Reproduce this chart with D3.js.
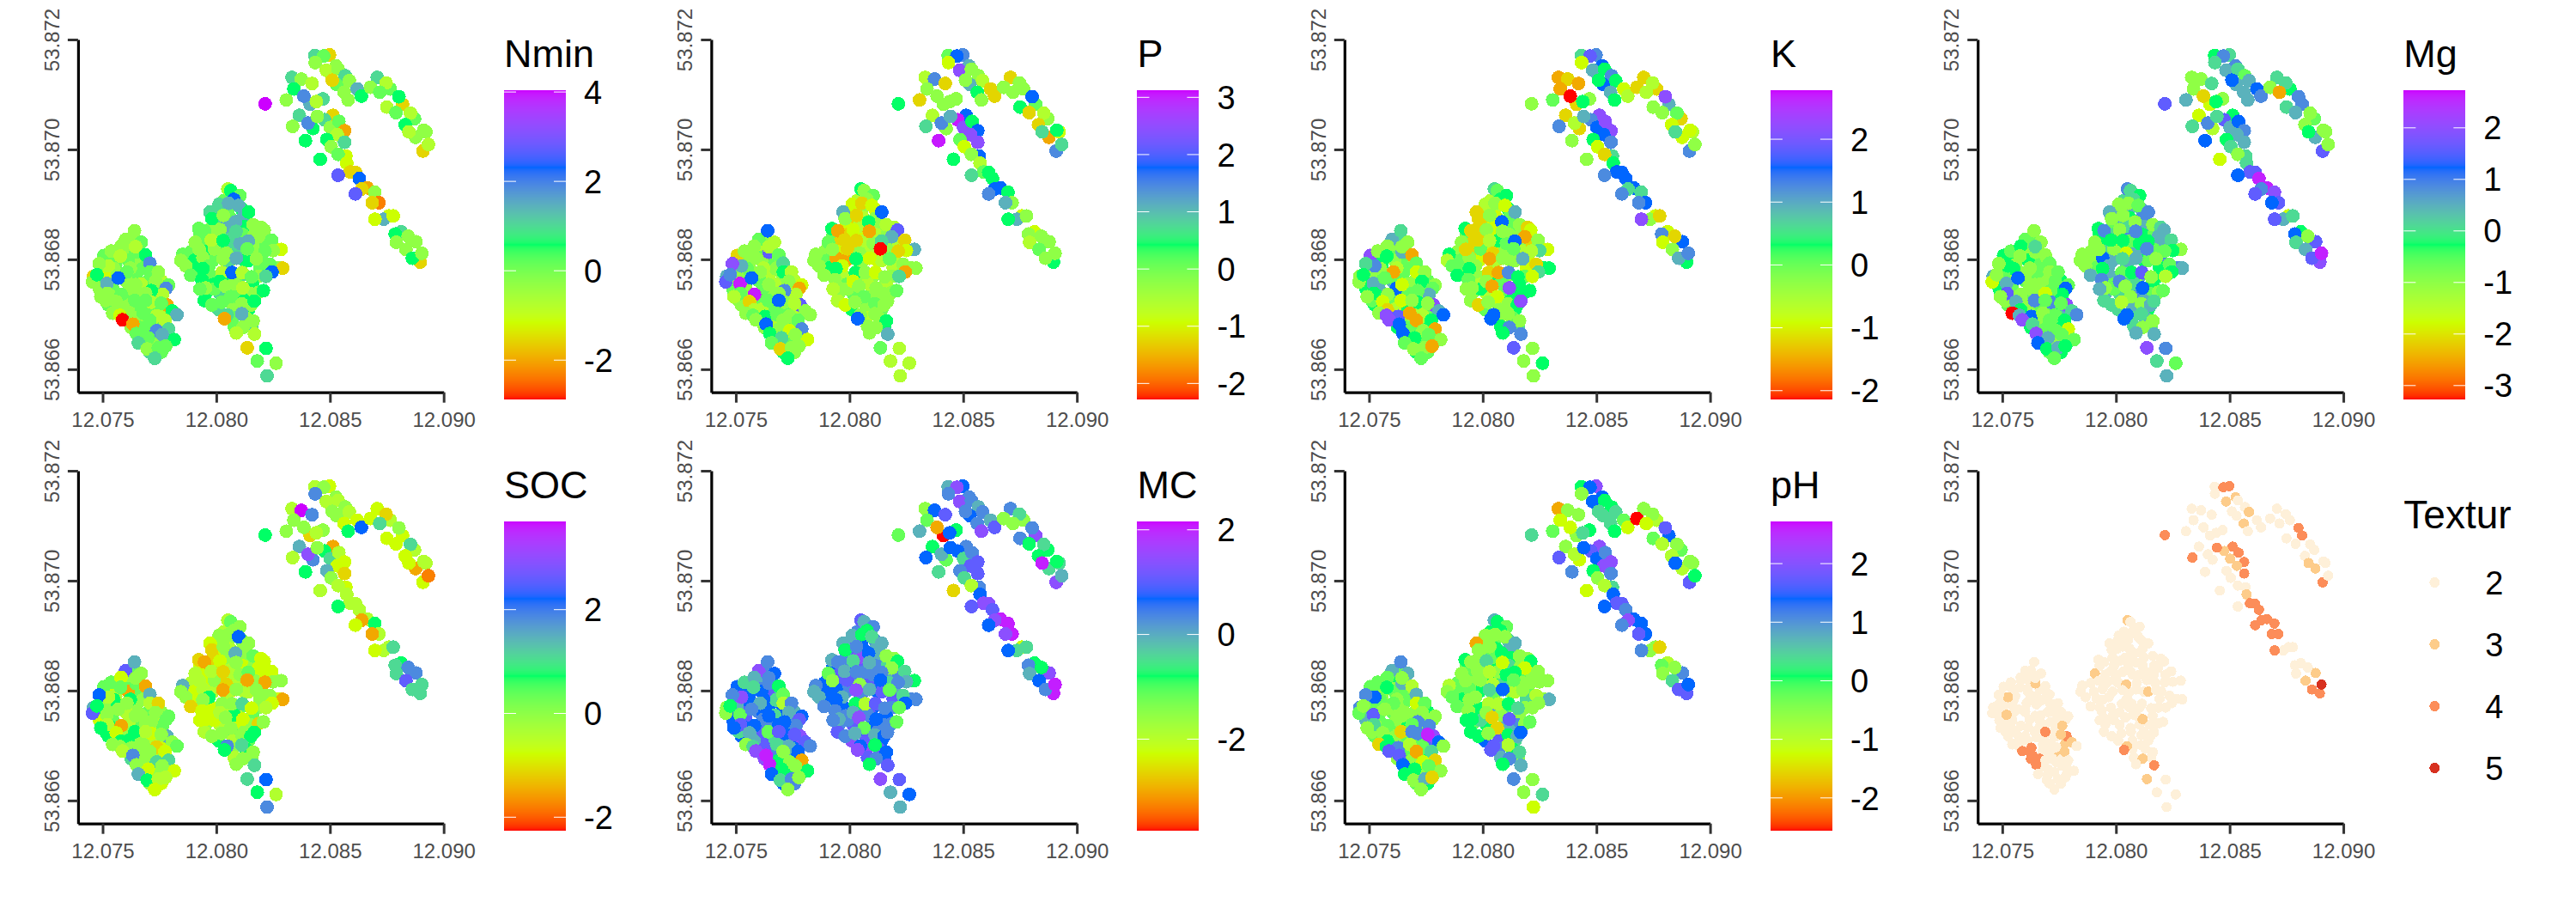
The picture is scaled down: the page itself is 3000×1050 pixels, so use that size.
<!DOCTYPE html>
<html>
<head>
<meta charset="utf-8">
<script src="https://cdn.jsdelivr.net/npm/d3@7"></script>
<style>
  body { margin: 0; background: #fff; }
  text { font-family: "Liberation Sans", Arial, sans-serif; }
</style>
</head>
<body>
<svg id="chart" width="3000" height="1050"></svg>
<script>
// sample positions, one entry per soil sample, same order in all the value arrays
var lon = [
  12.07626,12.07582,12.07616,12.07544,12.07611,12.07664,12.075,12.07557,12.07651,12.07695,
  12.07487,12.07538,12.07651,12.0772,12.07481,12.0755,12.07601,12.07701,12.07758,12.07487,
  12.07544,12.07664,12.07739,12.07538,12.07613,12.07664,12.07733,12.07525,12.07601,12.07683,
  12.07739,12.07557,12.07714,12.07777,12.0762,12.07676,12.07745,12.07626,12.07664,12.0772,
  12.07764,12.07664,12.07783,12.07701,12.07783,12.07708,12.07758,
  12.08035,12.0801,12.08054,12.08111,12.08004,12.0806,12.08117,12.07985,12.08066,12.08123,
  12.07928,12.07991,12.08054,12.08117,12.08167,12.07953,12.08004,12.08073,12.08167,12.08218,
  12.0789,12.07959,12.0801,12.08092,12.08173,12.07903,12.07985,12.0806,12.08123,12.08199,
  12.07915,12.08048,12.08192,12.08268,12.07928,12.07978,12.0806,12.08104,12.08186,12.07985,
  12.08092,12.08161,12.07953,12.08016,12.08104,12.08148,12.07947,12.08066,12.08123,12.0801,
  12.08073,12.08142,12.08073,12.08129,12.08155,12.08079,
  12.0755,12.07506,12.07601,12.07513,12.07651,12.07613,12.07689,12.07727,12.07613,12.07676,
  12.0746,12.07456,12.07494,12.07506,12.07538,12.07601,12.0764,12.0767,12.07581,12.07646,
  12.07645,12.07689,12.07578,12.07525,12.07485,12.07622,12.07607,12.07708,12.07709,12.07745,
  12.07733,12.07475,
  12.07519,12.07569,12.0767,12.0779,12.07779,12.0762,12.07645,12.07764,12.07714,12.07521,
  12.07492,12.07582,12.0756,12.07642,12.07689,12.07714,12.07689,12.07783,12.07758,12.07806,
  12.07827,12.07581,12.07544,12.07576,12.07628,12.07588,12.07679,12.07737,12.07708,12.07774,
  12.07633,12.0779,12.07649,12.07737,12.07701,12.07657,12.07815,12.07762,12.07696,12.07745,
  12.07777,12.07729,
  12.07991,12.08066,12.08104,12.08142,12.07991,12.08079,12.07941,12.08041,
  12.08051,12.08064,12.08104,12.08077,12.08012,12.08054,12.08098,12.08142,12.07972,12.07981,
  12.08031,12.08084,12.08162,12.08197,12.08211,12.07923,12.07948,12.08016,12.08087,12.08185,
  12.08141,12.07978,12.0803,12.07907,12.07925,12.08243,12.08285,12.0825,12.08214,12.08136,
  12.08045,12.07852,12.07844,12.07866,12.07888,12.07968,12.07941,12.08029,12.08088,12.08176,
  12.08235,12.08292,12.08245,12.08218,12.08026,12.08069,12.08114,12.08155,12.08016,12.07937,
  12.07953,12.07928,12.08041,12.08117,12.08186,12.08207,12.08064,12.07981,12.08024,12.08112,
  12.08152,12.08167,12.08048,12.08036,12.08112,12.08162,12.08117,12.08088,12.08168,
  12.08136,12.08219,12.0818,12.08263,12.08223,
  12.08434,12.08498,12.08472,12.08435,12.08526,12.08484,12.08536,12.08567,12.0853,12.0851,
  12.08585,12.08562,12.0862,12.08638,12.0858,12.08333,12.08374,12.08421,12.08341,12.08413,
  12.08385,12.08469,12.0844,12.08308,12.08215,12.08708,12.08765,12.08747,12.08678,12.08719,
  12.08819,12.08803,12.0875,12.0879,12.08872,12.08854,12.08831,12.08877,12.08922,12.08912,
  12.08847,12.08909,12.08933,12.08365,12.08336,12.08425,12.08404,12.08513,12.08476,12.08444,
  12.08502,12.08539,12.08564,12.08532,12.08564,12.08392,12.08486,12.08505,12.0857,12.08536,
  12.08574,12.08457,12.08589,12.08612,12.08536,12.08629,12.08664,12.08639,12.08612,12.08697,
  12.08715,12.08686,12.08759,12.08736,12.08698,12.08778,12.08813,12.08787,12.08878,12.08844,
  12.08792,12.08834,12.08897,12.08862,12.08904
];
var lat = [
  53.86837,53.86819,53.86819,53.86803,53.86803,53.86803,53.8679,53.8679,53.8679,53.8679,
  53.86775,53.86775,53.86775,53.86775,53.86761,53.86761,53.86761,53.86761,53.86761,53.86746,
  53.86746,53.86746,53.86746,53.86733,53.86733,53.86733,53.86733,53.86717,53.86717,53.86717,
  53.86717,53.86704,53.86704,53.86704,53.86689,53.86689,53.86689,53.86676,53.86676,53.86676,
  53.86676,53.8666,53.8666,53.86647,53.86647,53.86631,53.86631,
  53.86907,53.86892,53.86892,53.86892,53.86876,53.86876,53.86876,53.8686,53.8686,53.8686,
  53.86845,53.86845,53.86845,53.86845,53.86845,53.86829,53.86829,53.86829,53.86829,53.86829,
  53.86814,53.86814,53.86814,53.86814,53.86814,53.86798,53.86798,53.86798,53.86798,53.86798,
  53.86785,53.86785,53.86785,53.86785,53.86769,53.86769,53.86769,53.86769,53.86769,53.86754,
  53.86754,53.86754,53.86738,53.86738,53.86738,53.86738,53.86725,53.86725,53.86725,53.86709,
  53.86709,53.86709,53.86694,53.86694,53.86678,53.86678,
  53.86783,53.86772,53.86767,53.86725,53.86715,53.86709,53.86673,53.86652,53.86798,53.86783,
  53.86769,53.86759,53.86792,53.86807,53.86815,53.86836,53.86852,53.86831,53.86824,53.86813,
  53.86823,53.86808,53.86806,53.86788,53.86792,53.86784,53.86777,53.86793,53.86777,53.86777,
  53.8676,53.86772,
  53.86756,53.86766,53.86755,53.86753,53.86747,53.86747,53.86754,53.86736,53.86743,53.86738,
  53.86732,53.86736,53.86723,53.86725,53.86738,53.86722,53.86725,53.86717,53.8672,53.86706,
  53.86699,53.86708,53.86702,53.86698,53.86696,53.8669,53.86702,53.86697,53.86689,53.86689,
  53.86682,53.86673,53.86665,53.8667,53.86657,53.86648,53.86654,53.86663,53.86637,53.86639,
  53.86642,53.8662,
  53.86819,53.86834,53.86829,53.86798,53.86746,53.86756,53.86803,53.8686,
  53.86928,53.86925,53.86916,53.86909,53.869,53.86902,53.86898,53.86886,53.86886,53.86874,
  53.8688,53.86868,53.86863,53.86858,53.86853,53.86856,53.86852,53.86854,53.86851,53.86841,
  53.86833,53.86835,53.86834,53.86831,53.86818,53.86835,53.86818,53.86816,53.86815,53.86819,
  53.86811,53.86809,53.86798,53.86788,53.86771,53.86788,53.86783,53.86801,53.86802,53.86801,
  53.86791,53.86784,53.86777,53.86769,53.86776,53.86776,53.86776,53.86768,53.8676,53.86763,
  53.86748,53.86746,53.86751,53.86748,53.8674,53.86743,53.86732,53.86717,53.86722,53.86719,
  53.86717,53.86724,53.86699,53.86692,53.86701,53.86688,53.86676,53.86666,53.86664,
  53.86639,53.86638,53.86615,53.86611,53.86588,
  53.87171,53.87172,53.8717,53.87158,53.87152,53.87144,53.87146,53.87134,53.87118,53.87126,
  53.87125,53.87104,53.8711,53.87097,53.8709,53.87131,53.87128,53.8712,53.8711,53.87082,
  53.87097,53.87092,53.87087,53.8709,53.87083,53.87131,53.8711,53.87121,53.87113,53.87104,
  53.87082,53.87096,53.87077,53.87067,53.87056,53.87066,53.87045,53.87022,53.87032,53.87035,
  53.87032,53.86997,53.87009,53.87062,53.87042,53.87038,53.87048,53.87062,53.87054,53.8706,
  53.8704,53.87051,53.87034,53.87027,53.87013,53.87016,53.87018,53.87005,53.86988,53.86991,
  53.86975,53.86982,53.86959,53.86958,53.86953,53.86947,53.8693,53.86928,53.86919,53.86922,
  53.86903,53.86903,53.86879,53.86873,53.86873,53.86879,53.8685,53.86846,53.86832,53.86842,
  53.86831,53.86818,53.86795,53.86802,53.86811
];

// standardised soil values
var Nmin = [
  -.29,.16,-.29,.16,-.29,.16,-.29,.16,-.29,.16,
  -.29,-.73,.16,-.29,.16,-.29,-.29,.16,-.73,-.29,
  .16,-.73,.16,-.29,.16,-.29,.16,.16,-.29,.16,
  -.29,-.29,.16,-.73,.16,-.29,.16,-.29,.16,-.73,
  .16,-.29,1.45,.16,-.29,1,.16,
  .16,.58,.16,.58,1,.16,1.45,-.29,1,.58,
  .16,-.29,1,.16,-.29,.16,.58,1,-.29,.16,
  .16,.58,.16,1,-.29,.58,.16,-.29,.58,.16,
  .58,1,.16,-.29,.58,.16,.58,1,-.29,.58,
  .16,.58,.58,1,.16,-.29,.58,.16,.58,1,
  -.29,.58,.16,-.29,1,.16,
  -.29,-1.15,-.29,-.29,.16,-.29,.16,-.29,.16,.16,
  -1.57,-.29,.16,.16,-.29,-.29,-.29,.16,-.29,.16,
  -.73,.58,-.73,-.73,-.29,-.29,.16,1.9,.16,-.29,
  -.29,.58,
  1.45,2.31,-.73,.16,1.9,-.29,-.29,-.73,.58,-.29,
  -.29,.16,-.29,.16,-.29,-.73,.16,-1.98,.16,.58,
  1.45,-.29,-.29,-1.15,-.29,-2.88,.16,-.73,.16,-.73,
  -1.98,1,.16,1.9,.16,1,.58,1.45,-.29,.16,
  .16,1,
  -.29,1,1.45,.58,.16,-.29,-.29,1.45,
  -.73,.58,.16,2.31,1,1.45,1.45,.58,1,.58,
  -.29,1.45,-.29,-.29,-.29,.16,.16,-.29,1,-.29,
  1.45,-.73,.58,-.29,-.29,.16,-1.15,-.29,.16,.16,
  -.29,.16,-.29,-.29,.16,.16,.58,-.29,1.45,-.29,
  .16,-1.57,2.31,1,-.73,2.31,-.73,.16,.58,.58,
  -.29,.16,-.29,-.73,-.29,.58,.16,.16,.16,-.29,
  -.29,.58,1,-1.98,1.45,-.29,-.29,-.73,-.73,
  -1.57,.58,.16,-.29,1,
  1,-1.57,.16,-.29,-.29,-.73,-.29,1,.16,-1.57,
  -.29,-.29,1.45,.58,-.29,1,-.29,-.73,.58,1.45,
  1.9,1,-.73,-.29,4.04,1,.16,-.73,-.29,.16,
  -1.57,.58,-.73,.16,.16,-.73,.58,-.29,-.29,-.29,
  -.73,-1.57,-.73,1,-.29,.58,1.9,-1.57,1,-.29,
  -.29,.16,-1.98,-.73,1,.58,.58,-.29,-1.15,.16,
  -1.15,.58,-1.57,-1.57,2.72,2.31,-1.98,-1.57,2.72,-.29,
  -2.33,-1.57,-1.15,1.45,-1.15,-1.15,1,.58,-.29,-.29,
  -.29,-.29,-1.57,.58,-.29
];
var P = [
  -.25,.1,-.6,-.25,.1,-.6,1.1,-.25,.1,-.25,
  1.45,-.25,-.6,.1,-.6,-.25,.1,-.25,-.6,.1,
  -.25,.42,-.6,-.25,.1,-.25,-.6,-.25,.1,-.25,
  .42,-.25,.1,-.6,-.25,.1,.42,-.25,-.6,.1,
  -.25,.42,-.6,.1,-.25,.42,-.25,
  -.6,-.93,-.25,-.93,-1.25,-.6,-.25,-.93,-.25,-.25,
  .1,-1.25,-.93,-.6,-.25,-1.25,-.93,-.25,-.25,-.6,
  -.25,-.93,-.25,-.6,-.25,.1,-1.58,-.25,-.93,-.6,
  .42,-.25,-.6,-.25,-.25,-.6,-.25,-.25,-.25,.1,
  -.25,-.6,-.25,.1,-.25,-.25,-.6,.1,-.25,.42,
  -.25,.1,-.6,-.25,.42,-.25,
  .1,-.25,.1,-.25,.1,-.6,-.25,.1,-.25,-.25,
  1.1,2.1,2.45,-1.25,-.25,.1,1.77,-.6,-.25,2.1,
  -.6,.1,-.25,1.1,2.45,-.6,-.25,.75,.42,-.6,
  -.25,1.45,
  3.05,1.77,-.6,-.93,-1.58,.1,-.25,-.6,1.45,.1,
  -.6,3.05,-1.25,.1,-.25,-.25,1.77,2.1,-.6,-.25,
  -.25,-.6,-.25,.1,.42,-.25,.1,-.25,-.25,.1,
  1.77,1.45,.42,-.93,.75,.1,-.93,-.25,-1.25,-.25,
  -.25,.42,
  -1.25,-.6,-.25,-.6,-.25,-.6,-1.58,-.6,
  .42,-.25,.1,-.25,-.93,-1.25,-.93,1.77,1.1,-.25,
  -1.25,.42,-.6,-.6,2.1,.42,-1.58,-.93,-1.58,1.1,
  .75,-1.25,-1.25,.1,-.25,-1.25,1.1,-.93,-1.25,-2.28,
  -.25,-.25,-.25,-.25,-.25,-.93,.42,.42,-.93,.1,
  -.25,-.25,-1.58,.75,.42,-.25,-.93,-.25,-.93,-.25,
  -.25,-.6,-.25,-.25,-.25,.1,.1,-.93,-.25,.1,
  -.25,-.25,-.25,1.77,-.25,.42,-.25,-.25,1.1,
  .1,-.6,-.6,-.6,-.6,
  .1,1.45,1.77,-.93,1.1,2.45,-.25,-.25,1.1,-.25,
  -.6,.42,-1.25,-1.25,-.25,-.6,1.45,-1.25,-.25,-.25,
  -.25,-.25,-.25,-1.25,.42,-1.25,-.25,-.25,-.25,-.25,
  .1,1.77,.42,-1.25,-.25,-.6,-1.25,-1.58,-.93,.42,
  .75,1.45,.75,-.6,.75,-.25,1.45,1.77,3.05,1.1,
  2.45,.42,1.77,2.45,2.45,3.05,.1,-.93,1.77,-.25,
  -.6,.42,.1,.42,.75,.42,1.77,1.77,1.45,.42,
  -.25,1.1,-.93,1.1,.42,-.25,-.93,-.25,-.25,-.25,
  -.6,.1,.42,-.25,-.25
];
var K = [
  .6,.03,-.3,.32,.03,-1.2,.6,.32,.03,-.3,
  .6,.32,.03,-.3,.32,.03,.94,-.3,.03,.32,
  .94,-.3,.03,.32,.6,.03,-.3,.32,.03,.94,
  -.3,.03,-.6,.03,.32,-.3,.03,.32,.03,-.3,
  .32,-.3,.03,.32,-.3,.32,.03,
  -.6,-.91,-.6,.32,-1.2,-.91,.03,-1.2,-.6,.03,
  .03,-1.2,-.91,-.3,-.3,-1.2,-.6,-.91,-.3,-1.2,
  -.3,-1.2,-.91,-.3,-.6,.03,-.91,-1.2,-.3,-.91,
  .03,-.6,-.91,.32,-.3,-.3,.32,-.3,.03,-.6,
  .03,.32,-.3,-.6,.03,.32,-.3,-.6,.32,.03,
  -.3,.32,-.3,.03,.6,.32,
  -.3,-.3,.03,.03,.32,-.6,.03,.03,-.3,.03,
  -.3,-.3,.94,2.17,-.3,.94,.6,-.3,-.3,.94,
  -.3,-1.5,.32,1.25,.6,-.6,-1.5,.03,-.91,-.3,
  .32,.32,
  .94,.03,-.3,-.3,.03,1.55,-.91,.94,.03,.32,
  -.3,-.3,-.91,-.91,.03,.32,-.3,2.17,-.3,.94,
  1.55,-1.2,-.3,2.17,1.85,2.17,-1.5,-.6,-1.5,.32,
  1.55,-1.5,1.55,-.3,.32,.03,-.3,.03,-.3,-.3,
  -1.5,.03,
  .03,.32,.03,-.3,.32,.03,-.3,-.91,
  .6,.03,.32,.32,-.6,-.3,-.91,.94,-1.2,-1.2,
  -.3,1.55,-.3,-1.2,-.91,.32,-1.2,-.3,-.3,-1.5,
  1.55,-1.2,-.6,-.3,-1.2,-.3,-.91,.6,-.6,.03,
  -1.2,.32,-.6,.03,.32,-.3,.32,-1.5,-.3,.94,
  -1.2,.32,.6,-.91,-1.2,-1.5,1.25,.32,-.3,.03,
  -.3,-.3,-1.5,2.17,.32,.32,-.91,-1.2,-.3,-.3,
  .32,2.17,1.55,1.55,-.3,-.3,1.25,.32,1.25,
  1.85,-.3,-.3,.32,-.3,
  .6,1.25,1.85,-.91,1.55,.94,.32,1.25,1.55,.32,
  .32,.94,-.91,-.6,.32,-1.5,-1.2,-1.5,-1.5,-1.2,
  -2.14,-.3,.32,.03,-.3,-1.2,-1.2,-.6,-1.2,-.6,
  .94,2.17,-.3,-.3,-1.2,.03,-.91,-.91,-.6,-.91,
  .6,1.25,-.3,-1.2,1.25,-1.2,-.6,2.17,1.25,.94,
  1.55,2.17,2.17,1.55,1.25,-.3,.32,-.91,.6,-1.2,
  .32,-.3,1.55,1.55,1.25,1.55,1.55,.6,1.25,.6,
  1.55,1.25,-.91,-.3,2.17,-1.2,-.91,1.25,1.55,-1.2,
  -.91,-.3,.32,.94,1.25
];
var Mg = [
  -.63,-.27,-1.02,-.27,-1.02,-.63,-.27,-1.02,-.63,-1.02,
  -.27,-1.02,-.63,-.27,.09,-1.02,-.63,-1.02,-.27,-.27,
  -.63,-1.02,-.27,-1.02,-.63,-1.02,-.27,-.63,-1.02,-.63,
  -.27,-1.02,-.63,.48,-.27,-1.02,-.63,-.27,-1.02,-.63,
  -.27,-.63,-.27,.48,-.27,-.63,-.27,
  .09,-.63,.48,.48,.48,-.27,.87,-.63,-.27,.48,
  -.27,.09,.87,-.27,-.63,-.27,.48,-.27,-.63,.48,
  -1.02,.09,-.27,.48,-.63,-1.02,.48,.09,-.27,.87,
  -.63,.48,-.27,.87,-1.02,.48,.09,.48,-.27,-.63,
  -1.02,-.27,.48,.09,.87,-.63,.09,-1.02,.48,.09,
  .48,-.27,.09,.48,-.63,.09,
  -.27,-.63,-1.02,-1.02,-.63,-1.02,-.63,-1.02,-.27,-.63,
  .48,-1.77,-1.02,-.27,-.63,-.63,-1.02,-1.02,-.27,-1.02,
  .09,-1.02,-1.02,-.27,-1.02,-1.02,-1.02,-.63,-1.02,-.63,
  -.63,-1.02,
  .48,1.23,-1.02,-.63,1.23,-1.02,-1.02,-.27,-.63,1.59,
  -1.02,-1.02,.48,.87,-1.77,.87,-.63,1.98,-.63,.09,
  .87,-.27,-3.27,.48,1.23,1.98,-1.02,-.63,-.63,-.27,
  .09,-1.77,1.98,-.63,.48,1.23,-.63,-.63,-.27,.48,
  -.27,-.63,
  -1.02,-.63,-.27,-.63,-.63,.09,1.23,.09,
  .87,.09,-.27,.09,-1.02,-1.02,-.63,.87,.48,-1.02,
  -1.02,-1.02,-1.02,.09,.48,-.27,.87,-1.02,.87,.48,
  -.27,-.27,-.27,-1.02,-1.02,.09,-1.02,-.27,-.63,.87,
  -1.77,-1.02,-1.02,-1.02,.48,.48,-.27,.09,.48,-1.02,
  -.63,.48,-.27,-1.41,-.63,-.27,1.59,-1.02,.87,.87,
  -1.02,.48,-1.02,1.23,-1.02,-.63,-1.02,.09,-1.41,-1.02,
  .48,.09,1.23,1.23,.09,-1.02,-1.02,.48,.48,
  1.98,.87,.09,-.63,.48,
  -.27,.09,.87,.09,.87,.48,.09,-.63,.48,1.23,
  .48,.48,1.23,.87,.48,-1.02,-1.02,.09,-1.02,-1.77,
  -2.13,-1.02,-.27,.48,1.59,.09,-.27,.09,-1.02,-2.5,
  .87,.87,.09,.48,-.63,-1.02,-1.02,.48,-1.02,-1.02,
  -.27,1.59,-1.02,-1.77,.09,-1.41,.87,-.27,1.59,.09,
  .48,1.23,.87,.48,.48,1.23,-.27,.09,.09,-1.02,
  .09,-1.77,1.59,1.59,1.23,2.6,2.6,.87,1.59,1.98,
  1.59,1.23,-1.77,.48,1.59,.09,-.27,1.23,1.59,-1.02,
  .09,.48,1.98,1.59,2.6
];
var SOC = [
  .36,-.41,-.03,-.77,.36,-1.13,-.03,-.41,.36,-.03,
  .72,-.41,-.03,.36,.72,-.03,-.41,.36,-.03,-.77,
  .36,-.03,-.41,.72,-.03,.36,-.41,.72,-.03,-.41,
  .72,-.03,-.41,-.77,.36,-.03,-.77,1.08,-.03,-.41,
  -.03,-.41,-.77,.36,-.41,-.03,-.77,
  -.41,-.77,-.03,.36,-.77,-.41,-.03,-1.13,-.41,-.03,
  -.77,-1.13,-.41,-.77,-.03,-.77,-1.13,-.41,-.03,-.77,
  -.41,-.77,-1.13,-.41,-.03,-.77,-.41,-1.13,-.41,-.03,
  -.77,-.41,-.03,-.77,-.41,-.77,-.41,.36,-.03,-.77,
  -.41,.36,-.03,-.41,-.77,-.03,-.41,.36,-.03,.72,
  -.41,.36,-.03,.72,-.03,-.41,
  .72,-.03,-.41,.72,-.03,.72,-.03,-.03,-1.49,-.03,
  1.47,2.57,2.21,.36,.36,2.57,1.47,-.03,-.77,.36,
  -.03,-1.49,.36,-.41,2.21,.72,-.03,1.47,-.41,-1.13,
  -.03,.72,
  -.03,-.03,-.03,.36,.36,-.41,-.03,.36,-.03,-.41,
  .72,-1.49,-.77,.72,-.03,-.77,-.41,1.47,-.03,-.03,
  .36,.72,-.03,-.03,-.03,-.41,-.03,-1.13,-.03,-.77,
  1.85,1.08,-.03,1.08,-.77,1.47,-.77,-.03,.72,-.41,
  -.41,-.77,
  -.03,-.41,-.03,-.41,-.77,.72,-.41,-.03,
  -.41,.36,-.03,-.03,-.03,-.03,2.21,-.03,-.77,-1.13,
  -.03,1.47,.36,-.77,-.77,-1.13,-1.49,-.77,-.03,-.77,
  .36,-.41,-1.13,-.41,-.41,-.77,-.03,-.03,-1.49,-1.49,
  -1.13,1.47,-.03,-.03,-1.13,.72,-.03,-1.49,-.03,-.03,
  -.03,-1.49,-.77,-.41,-.03,-.03,1.08,-.77,-.41,-.77,
  -.77,-.77,-.03,-.77,-1.13,-.03,-.03,-.03,-.03,-.03,
  .72,.72,1.85,.72,1.08,-.03,-.03,-.03,1.08,
  1.08,2.21,.72,-.41,1.85,
  -.41,-.77,-.03,1.85,-.03,-.41,-.41,-.03,-.03,-.03,
  -.41,-.77,-.77,2.21,.72,-.41,3.7,1.85,-.03,-1.13,
  -.03,-.03,-.41,-.03,.72,-.77,-.41,-1.13,-.77,1.08,
  -.77,-.03,-.77,-.77,-.41,1.08,-.77,-1.49,-.41,-.41,
  -.77,-.77,-1.78,1.47,-.41,1.85,2.96,-1.49,.72,-.03,
  1.08,-.41,-.77,-.77,-1.13,.72,1.47,-.03,-.77,-.41,
  -.41,-.41,-.41,-.41,.72,-.41,-.41,-1.49,-.77,.72,
  -.41,-1.49,-.41,-.41,-.77,1.08,.72,1.08,1.85,1.85,
  1.08,2.57,1.08,1.08,1.08
];
var MC = [
  .33,.68,-.06,.68,.33,1.04,.33,.68,1.04,-.06,
  .68,.33,.68,-.44,.68,1.04,.33,.68,-.06,.68,
  1.04,.68,.33,.68,1.04,.33,-.06,.68,1.04,.33,
  1.42,.68,-.06,.68,1.04,.33,.68,1.42,.33,-.06,
  .68,.33,.68,-.06,-.44,.68,.33,
  .33,-.06,.68,.33,1.04,.68,-.06,.33,1.04,-.06,
  .68,.33,1.04,.33,-.44,1.04,.68,.33,-.06,.33,
  .68,1.04,.33,1.04,-.44,.68,.33,1.04,.68,-.06,
  .68,.33,1.04,.33,-.06,.68,.33,.68,.33,.33,
  1.04,.68,.33,1.04,.68,.33,1.04,.68,.33,1.42,
  1.04,.68,1.42,1.04,.68,1.04,
  .68,-.06,.68,-.44,-.44,1.04,-.8,-.8,.68,-.44,
  -1.53,-1.53,.33,.68,-.44,1.42,.33,.68,-.06,.33,
  .33,-.8,-.44,1.42,.33,.68,-.06,-1.15,-1.92,.33,
  -.06,-.8,
  -1.15,.33,-.44,.68,1.04,.33,.68,.33,.68,1.04,
  .68,.68,-.06,-1.15,.68,.68,1.04,1.42,1.04,1.04,
  .33,-.06,-1.53,-.44,1.04,1.42,-.44,-.06,-1.53,.68,
  2.05,-2.98,2.05,-1.53,-.8,.68,-.8,-1.53,-.44,.33,
  -1.53,-1.53,
  1.04,.33,.33,1.04,.33,.33,.68,1.42,
  1.04,-.06,.33,-.8,-.06,-.8,-.44,-.06,-.06,-.8,
  .33,.68,-1.53,-1.53,-.8,-.06,.33,-.44,-.06,-1.53,
  .33,-.06,.33,-1.15,-1.53,-.44,-.8,-.06,.33,.68,
  -1.53,.33,-.06,-.06,.33,-.06,.68,1.42,-.06,-1.15,
  -.44,.33,.68,-1.15,-.8,-1.92,1.04,.33,-.06,.33,
  -.06,.33,1.42,.68,.33,-1.15,-1.15,.33,-.06,-.06,
  .68,.33,.68,1.42,-.8,.68,.33,-.8,1.04,
  1.42,1.04,-.06,.68,-.06,
  -.06,.68,1.42,.33,.33,1.42,.33,-.06,.68,.33,
  .33,.33,-.06,1.04,1.42,-1.53,.68,1.04,-1.15,-3.75,
  -2.98,-.8,.68,-.06,-1.15,.33,-1.53,-.44,-1.53,-1.53,
  1.42,.33,.33,-.8,-.8,-.44,-.8,-.44,-.44,-.8,
  2.05,1.42,-.06,-.8,.68,-1.15,-.06,.33,.68,.68,
  -.44,.33,1.04,1.04,1.04,-.44,.33,-.44,.33,-1.92,
  .68,-2.63,1.42,1.42,1.04,1.04,2.05,1.42,.68,2.05,
  2.05,1.42,-2.27,-.44,.68,-.44,-.8,.33,1.42,-.8,
  -.06,.68,2.05,.33,2.05
];
var pH = [
  -.24,-.58,.08,-.24,-.58,-.24,.74,-.58,-.24,-.58,
  .4,-.24,-.58,-.24,1.08,-.58,-.24,-.58,.08,.74,
  -.24,-.58,-.24,-.58,-.24,.08,-.58,-.24,-.58,.08,
  1.08,-.58,-.24,1.72,-.58,-.24,.08,-.58,-.24,-.58,
  .08,-.24,-.58,.08,-.58,-.24,.08,
  .08,-.58,-.24,.4,-.58,.08,.74,-.58,-.24,.08,
  -.24,-.58,.08,.4,-.58,-.24,-.58,.08,-.24,-.58,
  -.24,-.58,.08,.4,-.58,-.24,.08,.4,-.58,-.24,
  .08,-.24,.4,-.58,-.58,.08,.74,-.24,-.58,.08,
  .4,-.58,-.24,.08,.74,1.08,.08,-.24,.74,1.4,
  1.72,.4,1.08,.08,-.58,.74,
  -.24,-.24,-.58,-.58,-.24,-.58,-.58,-.58,-.24,-.24,
  1.08,-.24,1.08,-.24,-.24,.74,1.08,.74,-.24,.74,
  -.58,-.92,.08,1.4,1.08,-.58,-.24,.74,-1.24,-.24,
  -.58,-.58,
  1.72,-.58,-.58,-.58,-.58,-.58,-.58,1.08,1.08,.4,
  -.58,-.24,-.58,-1.56,-.24,1.08,1.08,2.06,2.6,1.4,
  -.58,.08,-1.56,.08,1.08,1.72,-.92,-.24,-1.87,.4,
  1.72,-1.56,1.4,-1.24,.08,.08,-.58,-.24,-.58,.74,
  -1.56,-.58,
  -.58,-.58,.08,-.92,.4,-.58,-.24,-.24,
  .74,.08,-.24,.08,-.58,-.58,-.58,.74,-1.87,-.58,
  -.58,.08,-.58,-.58,.08,.08,-.58,.4,-1.24,-1.24,
  .08,-.58,-.92,-.58,-.58,-.58,-.58,-.58,-.58,-.24,
  -.92,-.92,-.58,-.24,-.24,-.58,-.58,.4,1.4,-.58,
  -.92,.74,-.58,-.58,-.92,-.92,.08,.4,-.58,-.58,
  .08,.08,-1.56,1.72,-.58,-.24,-1.56,.08,-.58,.08,
  .74,1.4,1.72,1.72,-.92,.4,1.08,.08,.74,
  1.08,-.58,-.58,.4,-1.24,
  .08,2.06,1.4,-.58,1.4,1.4,.08,.08,.4,.4,
  .4,.4,-.24,-1.24,.08,-1.87,-.58,-.58,-1.24,-.58,
  -1.24,.08,.4,-.24,.4,-.58,-.92,-.58,-2.56,-1.24,
  1.4,1.72,-.24,-.92,-.24,-.58,-.92,-.92,-.58,-.58,
  1.4,1.72,.08,-.58,1.72,-1.24,-.92,2.06,1.72,1.4,
  1.4,1.08,2.06,2.06,1.08,1.08,.08,-.58,.4,-.92,
  1.4,-1.24,1.72,1.72,1.4,1.08,1.4,2.06,1.08,1.4,
  1.4,1.72,-.58,-.58,1.08,-1.56,-.92,-.24,1.08,-.58,
  -.58,.4,1.72,1.72,1.4
];
var Textur = [
  2,2,2,2,2,2,2,2,2,2,
  2,2,2,2,2,2,2,2,2,2,
  2,2,2,2,2,2,2,2,2,2,
  2,2,2,3,4,2,3,4,4,2,
  2,2,2,2,2,2,2,
  2,2,2,2,2,2,2,2,2,2,
  2,2,2,2,2,2,2,2,2,2,
  2,2,2,2,2,2,2,2,2,2,
  2,2,2,2,2,2,2,2,2,2,
  2,2,2,2,2,2,2,2,2,2,
  2,2,2,2,2,2,
  2,2,2,2,2,2,2,2,2,2,
  2,2,2,2,2,2,2,2,2,3,
  2,2,2,3,2,2,2,2,2,2,
  2,2,
  3,2,2,2,2,2,2,3,2,2,
  2,2,2,2,2,2,4,4,3,3,
  2,2,2,2,4,4,2,2,2,3,
  4,2,4,2,2,2,2,2,2,2,
  2,2,
  2,2,2,3,2,2,2,2,
  3,2,2,2,2,2,2,2,2,2,
  2,2,2,2,2,2,2,2,2,2,
  2,2,2,3,2,2,2,2,2,2,
  3,2,2,2,2,2,2,2,2,2,
  2,2,2,2,2,2,2,2,2,2,
  2,2,2,3,2,2,2,2,2,2,
  2,2,3,4,2,2,3,2,4,
  3,2,2,2,2,
  2,4,4,2,3,3,2,2,2,2,
  3,3,2,2,2,2,2,2,2,2,
  2,2,2,2,4,2,2,2,2,2,
  4,4,2,2,2,2,2,3,2,2,
  3,4,2,2,4,2,2,4,3,4,
  3,4,4,3,4,2,2,2,2,2,
  3,2,4,4,2,4,4,4,4,4,
  4,4,2,2,4,2,2,2,3,2,
  2,3,4,4,5
];

var panelNames = ["Nmin", "P", "K", "Mg", "SOC", "MC", "pH", "Textur"];
var panelValues = [Nmin, P, K, Mg, SOC, MC, pH, Textur];
var panelRanges = [[-2.88, 4.04], [-2.28, 3.125], [-2.14, 2.78], [-3.27, 2.73], [-2.26, 3.7], [-3.75, 2.16], [-2.56, 2.72]];
var panelTicks = [[-2, 0, 2, 4], [-2, -1, 0, 1, 2, 3], [-2, -1, 0, 1, 2], [-3, -2, -1, 0, 1, 2], [-2, 0, 2], [-2, 0, 2], [-2, -1, 0, 1, 2]];

var rainbow5 = ["#FF0000", "#CCFF00", "#00FF66", "#0066FF", "#CC00FF"];
var texturLevels = [2, 3, 4, 5];
var texturColours = ["#FEF0D9", "#FDCC8A", "#FC8D59", "#D7301F"];

var lonTicks = [12.075, 12.08, 12.085, 12.09];
var latTicks = [53.866, 53.868, 53.87, 53.872];

// Layout of one panel
var colStep = 737.45, rowStep = 502,
    axisLeft = 90.9, axisTop = 46,
    width = 425.8, height = 410.7,
    barLeft = 587 - axisLeft, barTop = 105 - axisTop, barWidth = 72, barHeight = 360;

var svg = d3.select("#chart");

var x = d3.scaleLinear().domain([12.07392, 12.09]).range([0, width]);
var y = d3.scaleLinear().domain([53.872, 53.86558]).range([0, height]);
var texturColour = d3.scaleOrdinal().domain(texturLevels).range(texturColours);

panelNames.forEach(function(name, i) {
  var g = svg.append("g")
      .attr("transform", "translate(" + (axisLeft + colStep * (i % 4)) + "," + (axisTop + rowStep * Math.floor(i / 4)) + ")");
  var isTextur = name === "Textur";
  var values = panelValues[i];
  var colour = texturColour;

  if (!isTextur) {
    var r = panelRanges[i];
    colour = d3.scaleLinear()
        .domain(d3.range(5).map(function(k) { return r[0] + (r[1] - r[0]) * k / 4; }))
        .range(rainbow5)
        .interpolate(d3.interpolateLab)
        .clamp(true);
  }

  // points
  g.append("g").selectAll("circle")
      .data(values)
    .join("circle")
      .attr("cx", function(d, k) { return x(lon[k]); })
      .attr("cy", function(d, k) { return y(lat[k]); })
      .attr("r", isTextur ? 6 : 8)
      .attr("fill", function(d) { return colour(d); })
      .attr("shape-rendering", "crispEdges");

  // axes
  var xAxis = g.append("g")
      .attr("transform", "translate(0," + height + ")")
      .call(d3.axisBottom(x).tickValues(lonTicks).tickFormat(d3.format(".3f")).tickSize(12).tickSizeOuter(0).tickPadding(11));
  var yAxis = g.append("g")
      .call(d3.axisLeft(y).tickValues(latTicks).tickFormat(d3.format(".3f")).tickSize(12).tickSizeOuter(0));

  [xAxis, yAxis].forEach(function(a) {
    a.select(".domain").attr("stroke", "#000").attr("stroke-width", 3.2);
    a.selectAll(".tick line").attr("stroke", "#333").attr("stroke-width", 3);
    a.selectAll("text").attr("fill", "#4D4D4D").style("font-size", "24px").style("font-family", "Liberation Sans");
  });
  yAxis.selectAll("text")
      .attr("transform", "rotate(-90)")
      .attr("x", 0)
      .attr("y", -22)
      .attr("dy", 0)
      .attr("text-anchor", "middle");

  // legend
  var legend = g.append("g").attr("transform", "translate(" + barLeft + "," + barTop + ")");
  if (isTextur) {
    legend.append("text")
        .attr("x", 0).attr("y", 615 - 548 - barTop)
        .attr("font-size", 46)
        .text(name);
    var keyY = d3.scalePoint().domain(texturLevels).range([678 - 548 - barTop, 894 - 548 - barTop]);
    legend.selectAll("circle")
        .data(texturLevels)
      .join("circle")
        .attr("cx", 36)
        .attr("cy", function(d) { return keyY(d); })
        .attr("r", 6)
        .attr("fill", function(d) { return texturColour(d); })
        .attr("shape-rendering", "crispEdges");
    legend.selectAll("text.key")
        .data(texturLevels)
      .join("text")
        .attr("class", "key")
        .attr("x", 95)
        .attr("y", function(d) { return keyY(d); })
        .attr("dy", "0.36em")
        .attr("font-size", 38)
        .text(function(d) { return d; });
    return;
  }

  var barY = d3.scaleLinear().domain(panelRanges[i]).range([barHeight, 0]);
  legend.append("text")
      .attr("x", 0).attr("y", -27)
      .attr("font-size", 45)
      .text(name);
  legend.selectAll("rect")
      .data(d3.range(barHeight))
    .join("rect")
      .attr("x", 0)
      .attr("y", function(d) { return d; })
      .attr("width", barWidth)
      .attr("height", 1)
      .attr("shape-rendering", "crispEdges")
      .attr("fill", function(d) { return colour(barY.invert(d + 0.5)); });

  var ticks = legend.selectAll("g.tick")
      .data(panelTicks[i])
    .join("g")
      .attr("class", "tick")
      .attr("transform", function(d) { return "translate(0," + barY(d) + ")"; });
  ticks.append("line").attr("x1", 0).attr("x2", 14).attr("stroke", "#fff").attr("stroke-width", 1);
  ticks.append("line").attr("x1", barWidth - 14).attr("x2", barWidth).attr("stroke", "#fff").attr("stroke-width", 1);
  ticks.append("text")
      .attr("x", barWidth + 21)
      .attr("dy", "0.36em")
      .attr("font-size", 38)
      .text(function(d) { return d; });
});
</script>
</body>
</html>
